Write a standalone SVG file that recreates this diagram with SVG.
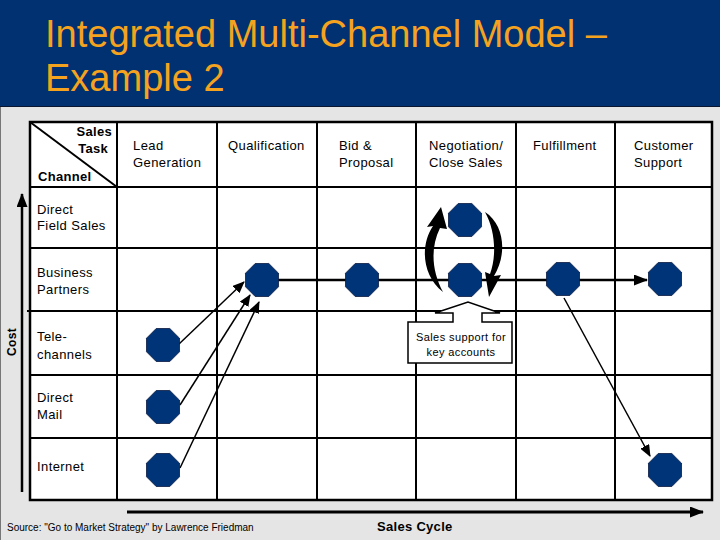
<svg xmlns="http://www.w3.org/2000/svg" width="720" height="540" viewBox="0 0 720 540">
<defs>
<style>
.t{font-family:"Liberation Sans",Arial,sans-serif;font-size:13px;letter-spacing:0.4px;fill:#000}
.b{font-family:"Liberation Sans",Arial,sans-serif;font-size:13px;font-weight:bold;letter-spacing:0.3px;fill:#000}
.title{font-family:"Liberation Sans",Arial,sans-serif;font-size:38px;fill:#f5a31e}
.grid{stroke:#000;stroke-width:2;fill:none}
.oct{fill:#003478;stroke:#0a1a40;stroke-width:0.8}
.con{stroke:#000;stroke-width:1.5;fill:none}
</style>
<marker id="ah" markerUnits="userSpaceOnUse" markerWidth="12" markerHeight="10" refX="11" refY="5" orient="auto"><path d="M0,0 L12,5 L0,10 z" fill="#000"/></marker>
<marker id="ahb" markerUnits="userSpaceOnUse" markerWidth="14" markerHeight="11" refX="13" refY="5.5" orient="auto"><path d="M0,0 L14,5.5 L0,11 z" fill="#000"/></marker>
<path id="o" d="M-6.8,-16.5 L6.8,-16.5 L16.5,-6.8 L16.5,6.8 L6.8,16.5 L-6.8,16.5 L-16.5,6.8 L-16.5,-6.8 Z"/>
</defs>

<!-- background -->
<rect x="0" y="0" width="720" height="540" fill="#e5e5e5"/>
<rect x="0" y="0" width="720" height="107" fill="#013170"/>
<line x1="0" y1="106.5" x2="720" y2="106.5" stroke="#0a1630" stroke-width="1"/>
<line x1="0.5" y1="107" x2="0.5" y2="540" stroke="#777" stroke-width="1"/>

<g id="title">
<text class="title" x="45" y="47">Integrated Multi-Channel Model –</text>
<text class="title" x="45" y="91">Example 2</text>
</g>

<!-- table -->
<g id="table">
<rect x="30" y="122" width="682" height="378" fill="#fff" stroke="#000" stroke-width="2.5"/>
<g class="grid">
<line x1="117" y1="122" x2="117" y2="500"/>
<line x1="217" y1="122" x2="217" y2="500"/>
<line x1="317" y1="122" x2="317" y2="500"/>
<line x1="416" y1="122" x2="416" y2="500"/>
<line x1="516" y1="122" x2="516" y2="500"/>
<line x1="615" y1="122" x2="615" y2="500"/>
<line x1="30" y1="187" x2="712" y2="187"/>
<line x1="30" y1="248" x2="712" y2="248"/>
<line x1="27" y1="311" x2="712" y2="311"/>
<line x1="30" y1="375" x2="712" y2="375"/>
<line x1="30" y1="438" x2="712" y2="438"/>
<line x1="30" y1="122" x2="117" y2="187"/>
</g>
<text class="b" x="112" y="136" text-anchor="end">Sales</text>
<text class="b" x="108" y="153" text-anchor="end">Task</text>
<text class="b" x="38" y="181">Channel</text>
</g>

<g id="col-headers">
<text class="t" x="133" y="150">Lead</text>
<text class="t" x="133" y="167">Generation</text>
<text class="t" x="228" y="150">Qualification</text>
<text class="t" x="339" y="150">Bid &amp;</text>
<text class="t" x="339" y="167">Proposal</text>
<text class="t" x="429" y="150">Negotiation/</text>
<text class="t" x="429" y="167">Close Sales</text>
<text class="t" x="533" y="150">Fulfillment</text>
<text class="t" x="634" y="150">Customer</text>
<text class="t" x="634" y="167">Support</text>
</g>

<g id="row-headers">
<text class="t" x="37" y="214">Direct</text>
<text class="t" x="37" y="230">Field Sales</text>
<text class="t" x="37" y="277">Business</text>
<text class="t" x="37" y="294">Partners</text>
<text class="t" x="37" y="341">Tele-</text>
<text class="t" x="37" y="359">channels</text>
<text class="t" x="37" y="402">Direct</text>
<text class="t" x="37" y="419">Mail</text>
<text class="t" x="37" y="471">Internet</text>
</g>

<!-- axes -->
<g id="axes">
<line x1="22" y1="492" x2="22" y2="194" stroke="#000" stroke-width="2.5" marker-end="url(#ahb)"/>
<text class="b" font-size="12" transform="translate(16,342) rotate(-90)" text-anchor="middle" style="font-size:12px">Cost</text>
<line x1="127" y1="512" x2="703" y2="512" stroke="#000" stroke-width="3" marker-end="url(#ahb)"/>
<text class="b" x="377" y="531">Sales Cycle</text>
<text x="7" y="531" style="font-family:'Liberation Sans',Arial,sans-serif;font-size:10px" fill="#000">Source: "Go to Market Strategy" by Lawrence Friedman</text>
</g>

<!-- connectors -->
<g id="connectors">
<line class="con" x1="262" y1="280" x2="647" y2="280" style="stroke-width:2.5" marker-end="url(#ahb)"/>
<line class="con" x1="179" y1="344" x2="244" y2="282" marker-end="url(#ah)"/>
<line class="con" x1="180" y1="405" x2="250" y2="295" marker-end="url(#ah)"/>
<line class="con" x1="180" y1="468" x2="259" y2="302" marker-end="url(#ah)"/>
<line class="con" x1="564" y1="298" x2="650" y2="456" marker-end="url(#ah)"/>
<path d="M443,292 C422,276 420,245 433,226 L427,227 L441,207 L447,229 L440,228 C430,248 432,272 443,292 Z" fill="#000"/>
<path d="M485,212 C505,225 507,255 494,276 L501,275 L489,297 L485,272 L490,274 C497,255 495,230 485,212 Z" fill="#000"/>
</g>

<!-- nodes -->
<g id="n-tele"><use href="#o" class="oct" x="163" y="345"/></g>
<g id="n-mail"><use href="#o" class="oct" x="163" y="407"/></g>
<g id="n-internet"><use href="#o" class="oct" x="163" y="470"/></g>
<g id="n-qual"><use href="#o" class="oct" x="262" y="280"/></g>
<g id="n-bid"><use href="#o" class="oct" x="362" y="280"/></g>
<g id="n-neg-field"><use href="#o" class="oct" x="465" y="220"/></g>
<g id="n-neg-bp"><use href="#o" class="oct" x="465" y="280"/></g>
<g id="n-ful"><use href="#o" class="oct" x="563" y="279"/></g>
<g id="n-cs"><use href="#o" class="oct" x="665" y="279"/></g>
<g id="n-cs-internet"><use href="#o" class="oct" x="665" y="470"/></g>

<g id="callout">
<path d="M408,322 L453,322 L453,313 L435,313 L468,302 L500,313 L482,313 L482,322 L512,322 L512,363 L408,363 Z" fill="#fff" stroke="#000" stroke-width="1.5"/>
<text class="t" x="461" y="341" text-anchor="middle" style="font-size:11px">Sales support for</text>
<text class="t" x="461" y="356" text-anchor="middle" style="font-size:11px">key accounts</text>
</g>
</svg>
